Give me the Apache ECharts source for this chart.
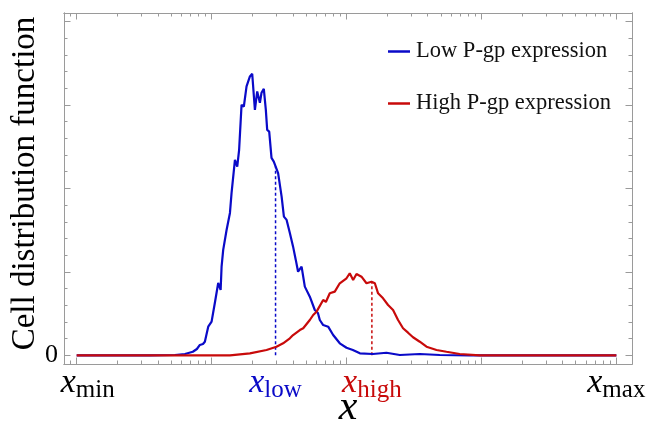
<!DOCTYPE html>
<html>
<head>
<meta charset="utf-8">
<script src="https://cdn.jsdelivr.net/npm/echarts@6/dist/echarts.min.js"></script>
<style>
  html, body { margin: 0; padding: 0; background: #fff; }
  #chart { width: 649px; height: 422px; }
</style>
</head>
<body>
<div id="chart"></div>
<script>
// Horizontal positions are decades of x (log10 scale): 0 = x_min, 4 = x_max.
const lowX = [0, 0.543, 0.728, 0.802, 0.861, 0.891, 0.913, 0.936, 0.950, 0.975, 1.000, 1.024, 1.049, 1.067, 1.074,
  1.086, 1.111, 1.136, 1.148, 1.173, 1.190, 1.204, 1.222, 1.239, 1.259, 1.284, 1.301, 1.321, 1.338, 1.358,
  1.370, 1.387, 1.402, 1.412, 1.427, 1.444, 1.461, 1.493, 1.519, 1.536, 1.556, 1.580, 1.604, 1.624, 1.641,
  1.667, 1.691, 1.728, 1.765, 1.788, 1.802, 1.827, 1.864, 1.901, 1.950, 2.000, 2.047, 2.099, 2.195, 2.296,
  2.395, 2.543, 2.691, 2.913, 4.0];
const lowY = [0, 0, 0.004, 0.016, 0.043, 0.076, 0.124, 0.136, 0.163, 0.343, 0.403, 0.627, 0.867, 0.783, 1.062,
  1.263, 1.502, 1.706, 1.946, 2.342, 2.261, 2.462, 3.001, 2.981, 3.221, 3.341, 3.373, 2.941, 3.161, 3.025,
  3.145, 3.193, 2.941, 2.701, 2.681, 2.365, 2.321, 2.182, 1.902, 1.662, 1.622, 1.466, 1.302, 1.143, 1.002,
  1.062, 0.823, 0.703, 0.543, 0.507, 0.423, 0.363, 0.343, 0.244, 0.144, 0.091, 0.064, 0.024, 0.016, 0.031,
  0.004, 0.016, 0.004, 0, 0];

const highX = [0, 1.136, 1.284, 1.407, 1.481, 1.530, 1.580, 1.604, 1.654, 1.679, 1.728, 1.753, 1.778, 1.827,
  1.847, 1.876, 1.913, 1.950, 2.000, 2.024, 2.049, 2.074, 2.111, 2.148, 2.185, 2.210, 2.234, 2.271, 2.308,
  2.345, 2.382, 2.419, 2.456, 2.493, 2.543, 2.593, 2.667, 2.741, 2.839, 2.988, 4.0];
const highY = [0, 0, 0.024, 0.064, 0.103, 0.144, 0.204, 0.243, 0.303, 0.324, 0.423, 0.483, 0.523, 0.663,
  0.639, 0.743, 0.763, 0.863, 0.923, 0.983, 0.903, 0.975, 0.942, 0.863, 0.882, 0.863, 0.743, 0.683, 0.603,
  0.543, 0.423, 0.324, 0.271, 0.216, 0.163, 0.103, 0.064, 0.043, 0.016, 0, 0];

// Marked positions on the x axis
const markX = [0, 1.474, 2.188, 4];
const markNames = ['min', 'low', 'high', 'max'];
const markStyles = ['k', 'b', 'r', 'k'];

const seriesNames = ['Low P-gp expression', 'High P-gp expression'];
const BLUE = '#0a0ac8';
const RED = '#c80a0a';
const FRAME = '#9a9a9a';
const SERIF = '"Liberation Serif", "DejaVu Serif", serif';

const X_MIN = -0.094, X_MAX = 4.116;
const Y_MIN = -0.104, Y_MAX = 4.101;

function pairs(xs, ys) { return xs.map((x, i) => [x, ys[i]]); }
function valueAt(xs, ys, x) {
  for (let i = 1; i < xs.length; i++) {
    if (x <= xs[i]) {
      const t = (x - xs[i - 1]) / (xs[i] - xs[i - 1]);
      return ys[i - 1] + t * (ys[i] - ys[i - 1]);
    }
  }
  return ys[ys.length - 1];
}

// Log-scale tick positions
const majorX = [0, 1, 2, 3, 4];
const minorX = [];
for (let d = -1; d <= 3; d++) {
  for (let k = 2; k <= 9; k++) {
    const v = d + Math.log10(k);
    if (v > X_MIN && v < X_MAX) minorX.push(v);
  }
}
const majorY = [0, 1, 2, 3, 4];
const minorY = [];
for (let i = 0; i < 4; i++) for (let j = 1; j < 5; j++) minorY.push(i + j * 0.2);

function xAxisDef(pos, ticks, len, labels) {
  return {
    type: 'value', position: pos, min: X_MIN, max: X_MAX,
    axisLine: { show: true, onZero: false, lineStyle: { color: FRAME, width: 1 } },
    axisTick: { show: true, inside: true, length: len, customValues: ticks, lineStyle: { color: FRAME, width: 1 } },
    axisLabel: labels || { show: false },
    splitLine: { show: false }
  };
}
function yAxisDef(pos, ticks, len, labels) {
  return {
    type: 'value', position: pos, min: Y_MIN, max: Y_MAX,
    axisLine: { show: true, onZero: false, lineStyle: { color: FRAME, width: 1 } },
    axisTick: { show: true, inside: true, length: len, customValues: ticks, lineStyle: { color: FRAME, width: 1 } },
    axisLabel: labels || { show: false },
    splitLine: { show: false }
  };
}

const xMain = xAxisDef('bottom', majorX, 6.5, {
  show: true,
  customValues: markX,
  margin: 2,
  formatter: function (v) {
    let idx = 0, best = Infinity;
    markX.forEach((m, i) => { const d = Math.abs(m - v); if (d < best) { best = d; idx = i; } });
    const s = markStyles[idx];
    const lead = idx === 0 ? 'xp' : 'x';
    return '{' + lead + s + '|x}{s' + s + '|' + markNames[idx] + '}';
  },
  rich: (function () {
    const r = {};
    const cols = { k: '#000', b: BLUE, r: RED };
    Object.keys(cols).forEach(function (c) {
      r['x' + c] = { fontFamily: SERIF, fontStyle: 'italic', fontSize: 34, lineHeight: 34, color: cols[c], verticalAlign: 'middle' };
      r['xp' + c] = { fontFamily: SERIF, fontStyle: 'italic', fontSize: 34, lineHeight: 34, color: cols[c], verticalAlign: 'middle', padding: [0, 0, 0, 22] };
      r['s' + c] = { fontFamily: SERIF, fontSize: 25, lineHeight: 25, color: cols[c], verticalAlign: 'middle', padding: [14, 0, 0, 0] };
    });
    return r;
  })()
});
xMain.name = 'x';
xMain.nameLocation = 'middle';
xMain.nameGap = 23;
xMain.nameMoveOverlap = false;
xMain.nameTextStyle = { fontFamily: SERIF, fontStyle: 'italic', fontSize: 42, color: '#000' };

const yMain = yAxisDef('left', majorY, 6.5, {
  show: true, customValues: [0], margin: 6,
  formatter: function () { return '0'; },
  fontFamily: SERIF, fontSize: 26, color: '#000'
});
yMain.name = 'Cell distribution function';
yMain.nameLocation = 'middle';
yMain.nameRotate = 90;
yMain.nameGap = 22;
yMain.nameMoveOverlap = false;
yMain.nameTextStyle = { fontFamily: SERIF, fontSize: 33, color: '#000', padding: [0, 0, 0, 10] };

const lowMarkY = valueAt(lowX, lowY, markX[1]);
const highMarkY = valueAt(highX, highY, markX[2]);

const chart = echarts.init(document.getElementById('chart'), null, { renderer: 'canvas' });
chart.setOption({
  animation: false,
  backgroundColor: '#fff',
  grid: { left: 64, right: 17, top: 13, bottom: 58, containLabel: false, outerBoundsMode: 'none' },
  xAxis: [
    xMain,
    xAxisDef('bottom', minorX, 3.5),
    xAxisDef('top', majorX, 6.5),
    xAxisDef('top', minorX, 3.5)
  ],
  yAxis: [
    yMain,
    yAxisDef('left', minorY, 3.5),
    yAxisDef('right', majorY, 6.5),
    yAxisDef('right', minorY, 3.5)
  ],
  legend: {
    data: seriesNames,
    orient: 'vertical',
    left: 383, top: 35,
    icon: 'rect',
    itemWidth: 22, itemHeight: 2.5, itemGap: 29,
    textStyle: { fontFamily: SERIF, fontSize: 22.5, color: '#111', padding: [0, 0, 0, 1] }
  },
  series: [
    {
      name: seriesNames[0], type: 'line', data: pairs(lowX, lowY),
      symbol: 'none', lineStyle: { color: BLUE, width: 2.2 }, itemStyle: { color: BLUE }, z: 3
    },
    {
      name: seriesNames[1], type: 'line', data: pairs(highX, highY),
      symbol: 'none', lineStyle: { color: RED, width: 2.2 }, itemStyle: { color: RED }, z: 4
    },
    {
      type: 'line', data: [[markX[1], 0], [markX[1], lowMarkY]],
      symbol: 'none', lineStyle: { color: BLUE, width: 1.5, type: [3, 2.5] }, z: 2
    },
    {
      type: 'line', data: [[markX[2], 0], [markX[2], highMarkY]],
      symbol: 'none', lineStyle: { color: RED, width: 1.5, type: [3, 2.5] }, z: 2
    }
  ]
});
</script>
</body>
</html>
